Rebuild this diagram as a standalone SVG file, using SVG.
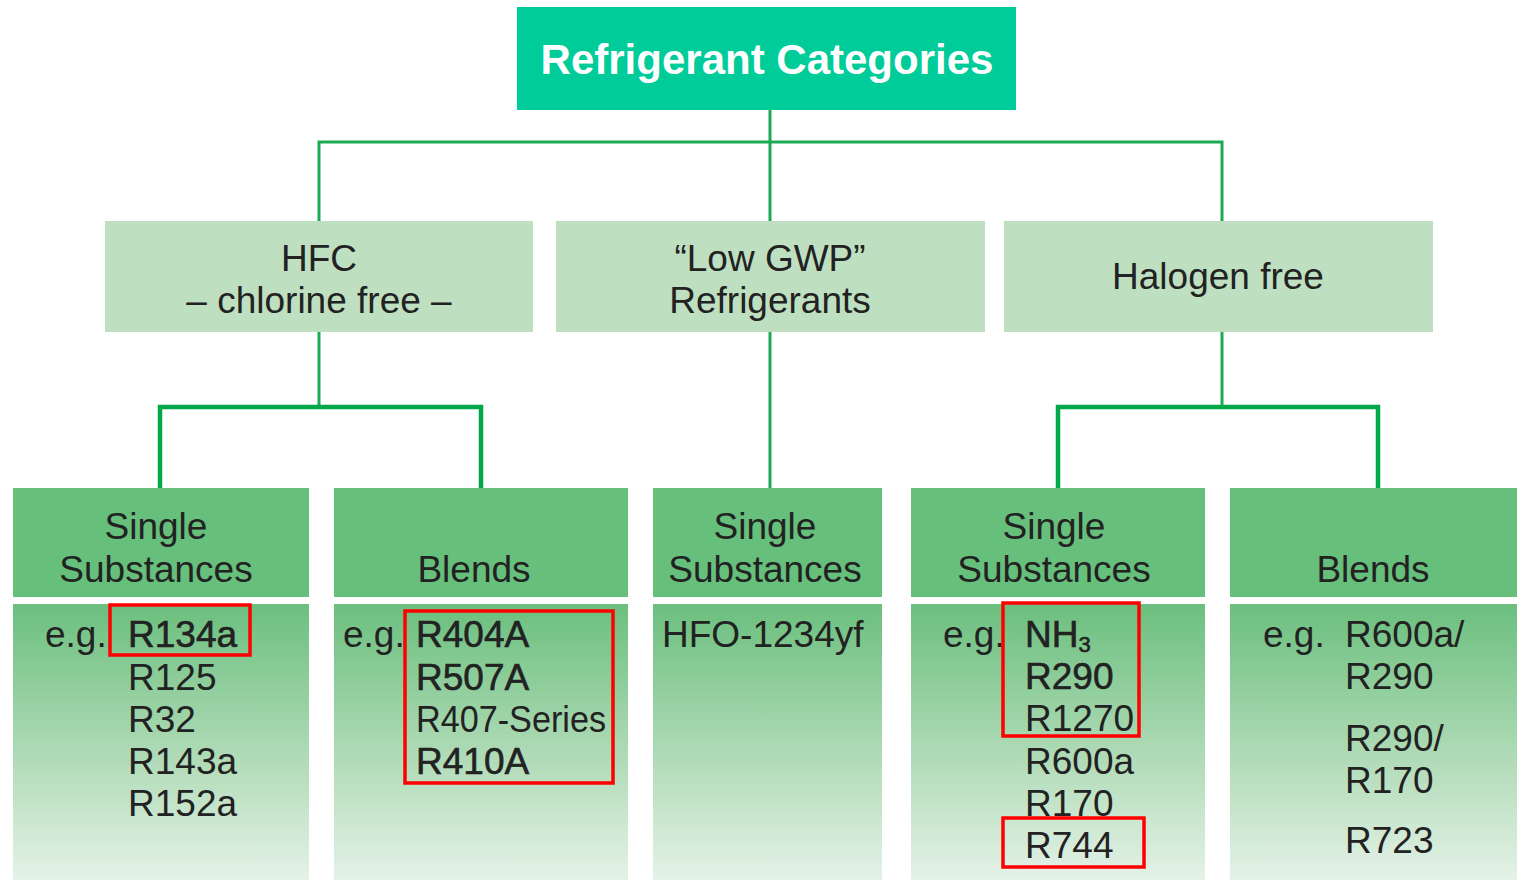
<svg xmlns="http://www.w3.org/2000/svg" width="1517" height="880" viewBox="0 0 1517 880">
<defs>
<linearGradient id="cg" x1="0" y1="0" x2="0" y2="1">
<stop offset="0" stop-color="#6BBF7E"/>
<stop offset="0.5" stop-color="#A9D8B1"/>
<stop offset="1" stop-color="#E5F2E7"/>
</linearGradient>
</defs>
<style>
text{font-family:"Liberation Sans",Arial,sans-serif;font-size:37px;fill:#222}
.c{text-anchor:middle}
.b{stroke:#222;stroke-width:0.6}
.t{font-size:42px;font-weight:bold;fill:#fff}
.l2{fill:#BEE0C1}
.hd{fill:#66BF7B}
.ct{fill:url(#cg)}
.red{fill:none;stroke:#F00;stroke-width:3.5}
.ln1{fill:none;stroke:#1DAA55;stroke-width:3}
.ln2{fill:none;stroke:#00A84A;stroke-width:4.5}
</style>
<rect width="1517" height="880" fill="#fff"/>
<g id="connectors">
<path class="ln1" d="M770 110V221M319 221V142H1222V221"/>
<path class="ln1" d="M319 332V407M770 332V488M1222 332V407"/>
<path class="ln2" d="M160 488V407H481V488M1058 488V407H1378V488"/>
</g>
<g id="root">
<rect x="517" y="7" width="499" height="103" fill="#00CC99"/>
<text class="t c" x="767" y="74">Refrigerant Categories</text>
</g>
<g id="hfc">
<rect class="l2" x="105" y="221" width="428" height="111"/>
<text class="c" x="319" y="271">HFC</text>
<text class="c" x="319" y="313">– chlorine free –</text>
</g>
<g id="lowgwp">
<rect class="l2" x="556" y="221" width="429" height="111"/>
<text class="c" x="770" y="271">“Low GWP”</text>
<text class="c" x="770" y="313">Refrigerants</text>
</g>
<g id="halogenfree">
<rect class="l2" x="1004" y="221" width="429" height="111"/>
<text class="c" x="1218" y="289">Halogen free</text>
</g>
<g id="hfc-single">
<rect class="hd" x="13" y="488" width="296" height="109"/>
<text class="c" x="156" y="539">Single</text>
<text class="c" x="156" y="582">Substances</text>
<rect class="ct" x="13" y="604" width="296" height="276"/>
<text x="45" y="647">e.g.</text>
<text class="b" x="128" y="647">R134a</text>
<text x="128" y="690">R125</text>
<text x="128" y="732">R32</text>
<text x="128" y="774">R143a</text>
<text x="128" y="816">R152a</text>
<rect class="red" x="110" y="605" width="140" height="50"/>
</g>
<g id="hfc-blends">
<rect class="hd" x="334" y="488" width="294" height="109"/>
<text class="c" x="474" y="582">Blends</text>
<rect class="ct" x="334" y="604" width="294" height="276"/>
<text x="343" y="647">e.g.</text>
<text class="b" x="416" y="647">R404A</text>
<text class="b" x="416" y="690">R507A</text>
<text x="416" y="732" textLength="190" lengthAdjust="spacingAndGlyphs">R407-Series</text>
<text class="b" x="416" y="774">R410A</text>
<rect class="red" x="405" y="611" width="208" height="172"/>
</g>
<g id="lowgwp-single">
<rect class="hd" x="653" y="488" width="229" height="109"/>
<text class="c" x="765" y="539">Single</text>
<text class="c" x="765" y="582">Substances</text>
<rect class="ct" x="653" y="604" width="229" height="276"/>
<text x="662" y="647">HFO-1234yf</text>
</g>
<g id="hf-single">
<rect class="hd" x="911" y="488" width="294" height="109"/>
<text class="c" x="1054" y="539">Single</text>
<text class="c" x="1054" y="582">Substances</text>
<rect class="ct" x="911" y="604" width="294" height="276"/>
<text x="943" y="647">e.g.</text>
<text class="b" x="1025" y="647">NH<tspan font-size="22" dy="5">3</tspan></text>
<text class="b" x="1025" y="689">R290</text>
<text x="1025" y="731">R1270</text>
<text x="1025" y="774">R600a</text>
<text x="1025" y="816">R170</text>
<text x="1025" y="858">R744</text>
<rect class="red" x="1003" y="603" width="136" height="133"/>
<rect class="red" x="1003" y="818" width="141" height="49"/>
</g>
<g id="hf-blends">
<rect class="hd" x="1230" y="488" width="287" height="109"/>
<text class="c" x="1373" y="582">Blends</text>
<rect class="ct" x="1230" y="604" width="287" height="276"/>
<text x="1263" y="647">e.g.</text>
<text x="1345" y="647">R600a/</text>
<text x="1345" y="689">R290</text>
<text x="1345" y="751">R290/</text>
<text x="1345" y="793">R170</text>
<text x="1345" y="853">R723</text>
</g>
</svg>
